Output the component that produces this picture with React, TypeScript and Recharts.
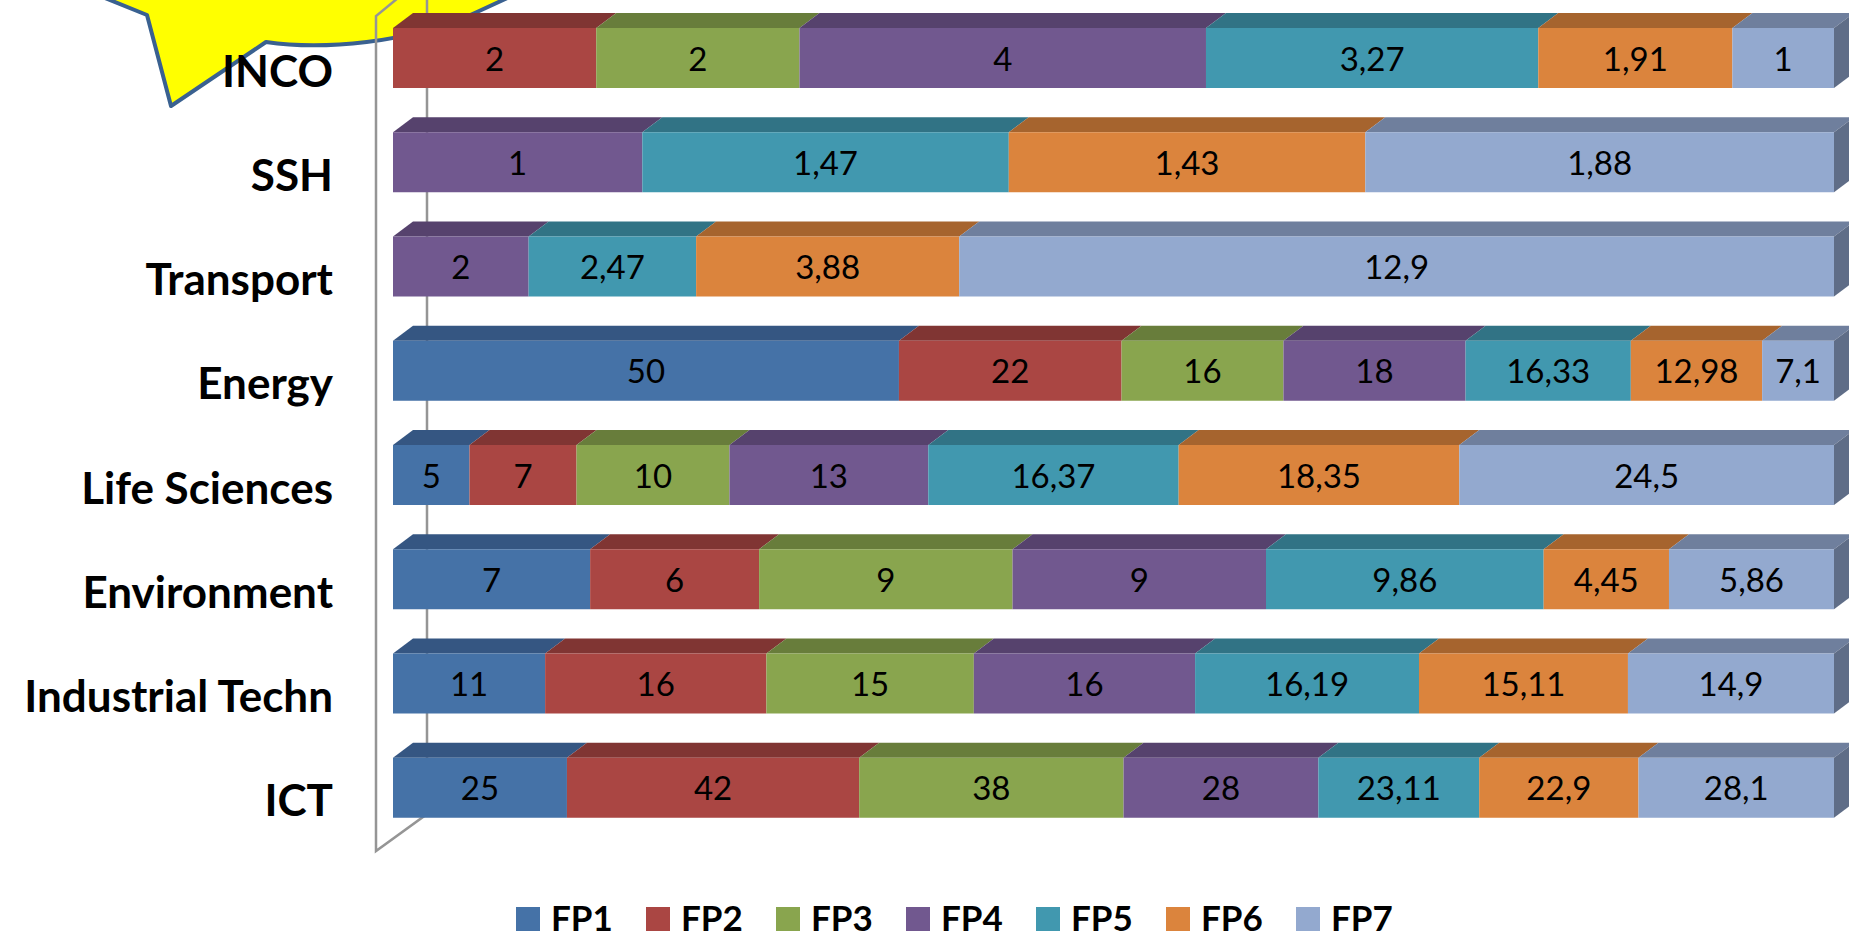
import React from 'react';
import { BarChart, Bar, XAxis, YAxis, LabelList, Legend, Customized } from 'recharts';

const categories = ['INCO', 'SSH', 'Transport', 'Energy', 'Life Sciences', 'Environment', 'Industrial Techn', 'ICT'];
const fp1 = [null, null, null, 50, 5, 7, 11, 25];
const fp2 = [2, null, null, 22, 7, 6, 16, 42];
const fp3 = [2, null, null, 16, 10, 9, 15, 38];
const fp4 = [4, 1, 2, 18, 13, 9, 16, 28];
const fp5 = [3.27, 1.47, 2.47, 16.33, 16.37, 9.86, 16.19, 23.11];
const fp6 = [1.91, 1.43, 3.88, 12.98, 18.35, 4.45, 15.11, 22.9];
const fp7 = [1, 1.88, 12.9, 7.1, 24.5, 5.86, 14.9, 28.1];
const seriesNames = ['FP1', 'FP2', 'FP3', 'FP4', 'FP5', 'FP6', 'FP7'];
const seriesValues = [fp1, fp2, fp3, fp4, fp5, fp6, fp7];
const colors = ['#4572A7', '#AA4643', '#89A54E', '#71588F', '#4198AF', '#DB843D', '#93A9CF'];
const topColors = ['#355682', '#803533', '#687D3B', '#56426D', '#317385', '#A6642E', '#6F7F9D'];
const sideColors = ['#2E4A70', '#6E2E2C', '#596B33', '#4A395E', '#2A6372', '#8F5628', '#5F6D87'];

const rows = categories.map((name, i) => {
  const row: Record<string, string | number | null> = { name };
  seriesNames.forEach((s, j) => { row[s] = seriesValues[j][i]; });
  return row;
});

const DX = 20;
const DY = 15;
const FONT = 'Lato, Carlito, sans-serif';

const makeShape = (index: number) => (props: any) => {
  const { x, y, width, height } = props;
  if (!width || width <= 0) return <g />;
  return (
    <g>
      <polygon points={`${x},${y} ${x + DX},${y - DY} ${x + width + DX},${y - DY} ${x + width},${y}`} fill={topColors[index]} />
      {index === seriesNames.length - 1 && (
        <polygon points={`${x + width},${y} ${x + width + DX},${y - DY} ${x + width + DX},${y + height - DY} ${x + width},${y + height}`} fill={sideColors[index]} />
      )}
      <rect x={x} y={y} width={width} height={height} fill={colors[index]} />
    </g>
  );
};

const formatValue = (v: any) => (v === null || v === undefined ? '' : String(v).replace('.', ','));

const Backdrop = () => (
  <g>
    <path
      d="M 105 -2 L 147 15 L 171 106 L 266 42 C 320 50 410 44 477 12 L 516 -6 L 516 -20 L 105 -20 Z"
      fill="#FFFF00"
      stroke="#3A6190"
      strokeWidth={4}
      strokeLinejoin="round"
    />
    <path d="M 398 -2 L 376 16 L 376 851 L 427 814 L 427 -4" fill="none" stroke="#959595" strokeWidth={2.5} />
  </g>
);

const LegendContent = (props: any) => (
  <div style={{ display: 'flex', fontFamily: FONT, fontWeight: 700, fontSize: 35, lineHeight: '24px', color: '#000' }}>
    {(props.payload || []).map((p: any) => (
      <div key={p.value} style={{ display: 'flex', alignItems: 'center', width: 130 }}>
        <div style={{ width: 24, height: 24, background: p.color, marginRight: 11 }} />
        <div style={{ position: 'relative', top: -2, height: 24, overflow: 'visible' }}>{p.value}</div>
      </div>
    ))}
  </div>
);

export default function App() {
  return (
    <div style={{ position: 'absolute', left: 0, top: 0, width: 1849, height: 934, overflow: 'hidden' }}>
      <BarChart
        width={1849}
        height={934}
        data={rows}
        layout="vertical"
        stackOffset="expand"
        barSize={60}
        margin={{ top: 6, right: 15, bottom: 70, left: 0 }}
      >
        <Customized component={Backdrop} />
        <XAxis type="number" domain={[0, 1]} hide />
        <YAxis
          type="category"
          dataKey="name"
          width={393}
          axisLine={false}
          tickLine={false}
          tickMargin={0}
          interval={0}
          tick={{ fill: '#000', fontFamily: FONT, fontWeight: 700, fontSize: 44, dx: -54, dy: 13 }}
        />
        <Legend
          content={<LegendContent />}
          wrapperStyle={{ position: 'absolute', left: 516, top: 907, width: 1000, bottom: 'auto' }}
        />
        {seriesNames.map((s, i) => (
          <Bar key={s} dataKey={s} stackId="a" fill={colors[i]} isAnimationActive={false} shape={makeShape(i)}>
            <LabelList
              dataKey={s}
              position="center"
              formatter={formatValue}
              dy={1}
              style={{ fill: '#000', fontFamily: FONT, fontSize: 33 }}
            />
          </Bar>
        ))}
      </BarChart>
    </div>
  );
}
